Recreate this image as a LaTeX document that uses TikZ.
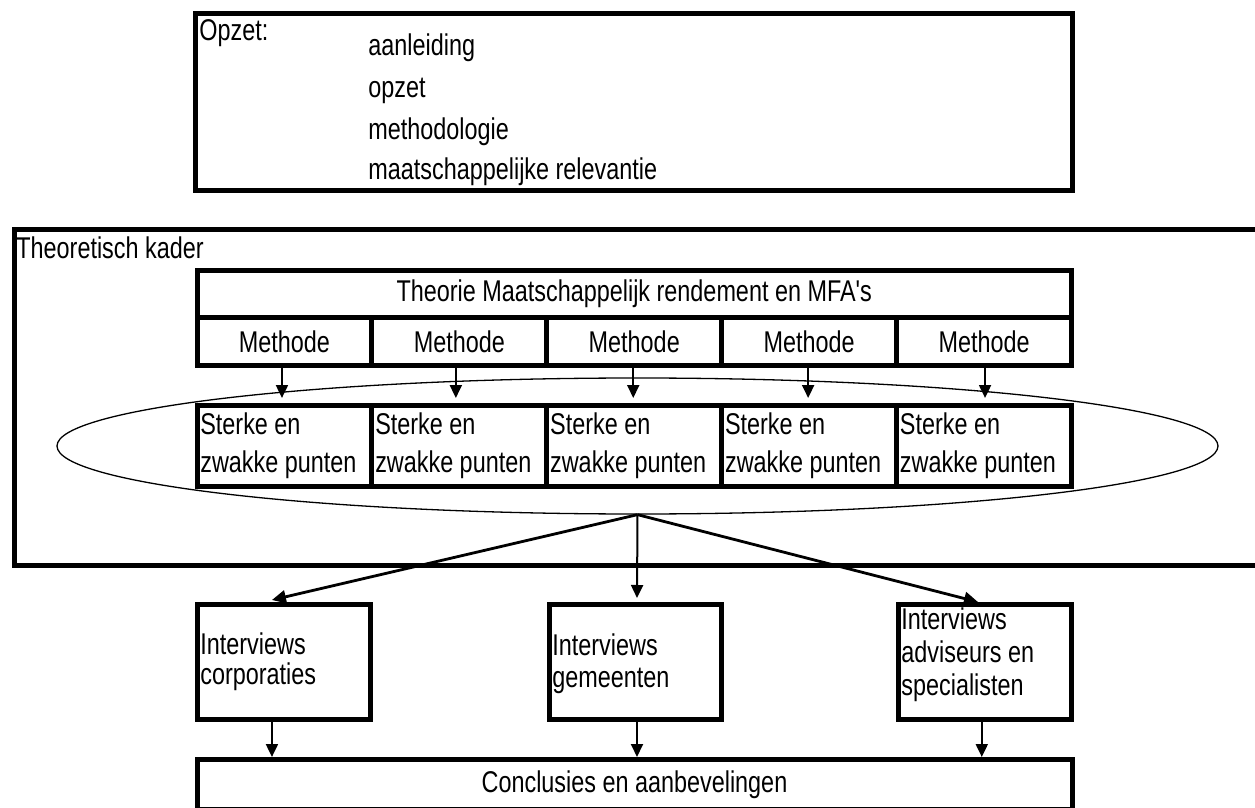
\documentclass[tikz,border=0pt]{standalone}
\usepackage{fontspec}
\newfontfamily\diafont[FakeStretch=0.78]{Liberation Sans}
\usetikzlibrary{arrows.meta,shapes.geometric}
\tikzset{
  box/.style={draw, line width=2.5pt, fill=white, inner sep=0pt, font=\diafont\fontsize{15}{19}\selectfont},
  txt/.style={inner sep=0pt, anchor=base west, font=\diafont\fontsize{15}{19}\selectfont},
  arr/.style={-{Triangle[length=6.5pt,width=6pt]}, line width=1pt},
  darr/.style={-{Triangle[length=7pt,width=6.5pt]}, line width=1.4pt},
}
\begin{document}
\begin{tikzpicture}[x=0.5pt,y=-0.5pt]
\useasboundingbox (0,0) rectangle (1255,808);
% top box
\node[box, minimum width=438.5pt, minimum height=88.5pt] (opzet) at (634,102) {};
\node[txt] (opzetlbl) at (199,41) {Opzet:};
\node[txt] (l1) at (368,56) {aanleiding};
\node[txt] (l2) at (368,98) {opzet};
\node[txt] (l3) at (368,140) {methodologie};
\node[txt] (l4) at (368,180) {maatschappelijke relevantie};
% theoretisch kader
\node[box, minimum width=625.5pt, minimum height=167.5pt] (kader) at (639.5,397.5) {};
\node[txt] (kaderlbl) at (16,259) {Theoretisch kader};
\node[draw, ellipse, line width=0.65pt, minimum width=580.5pt, minimum height=68pt, inner sep=0pt] (ell) at (637.5,446) {};
\node[box, minimum width=437.25pt, minimum height=23.5pt] (theorie) at (634.25,294) {Theorie Maatschappelijk rendement en MFA's};
\foreach \i/\x in {1/284.45,2/459.35,3/634.25,4/809.15,5/984.05}{
  \node[box, minimum width=87.45pt, minimum height=24pt] (m\i) at (\x,341.5) {Methode};
  \node[box, minimum width=87.45pt, minimum height=40.5pt] (s\i) at (\x,446) {};
  \node[txt] (sa\i) at (\x-84.5,434) {Sterke en};
  \node[txt] (sb\i) at (\x-84.5,472) {zwakke punten};
}
\foreach \i/\d in {1/-2.5,2/-3.5,3/-1,4/-1,5/1}{
  \draw[arr] ([xshift=\d*0.5pt]m\i.south) -- ([xshift=\d*0.5pt,yshift=2.5pt]s\i.north);
}
% interviews
\node[box, minimum width=86.75pt, minimum height=57.5pt] (corp) at (283.75,662) {};
\node[box, minimum width=86pt, minimum height=57.5pt] (gem) at (635.5,662) {};
\node[box, minimum width=86.5pt, minimum height=57.5pt] (adv) at (985,662) {};
\node[txt] (c1) at (200,654) {Interviews};
\node[txt] (c2) at (200,684) {corporaties};
\node[txt] (g1) at (552,655) {Interviews};
\node[txt] (g2) at (552,687) {gemeenten};
\node[txt] (a1) at (901,629) {Interviews};
\node[txt] (a2) at (901,662) {adviseurs en};
\node[txt] (a3) at (901,695) {specialisten};
\node[box, minimum width=437.5pt, minimum height=25pt] (concl) at (634.5,784.5) {Conclusies en aanbevelingen};
\draw[darr] (ell.south) -- ([xshift=-5.9pt,yshift=1pt]corp.north);
\draw[arr] (ell.south) -- ([xshift=0.75pt,yshift=2pt]gem.north);
\draw[darr] (ell.south) -- ([xshift=-3.5pt]adv.north);
\draw[arr] ([xshift=-5.9pt]corp.south) -- ([xshift=-5.9pt]corp.south |- concl.north);
\draw[arr] ([xshift=0.75pt]gem.south) -- ([xshift=0.75pt]gem.south |- concl.north);
\draw[arr] ([xshift=-1.6pt]adv.south) -- ([xshift=-1.6pt]adv.south |- concl.north);
\end{tikzpicture}
\end{document}
